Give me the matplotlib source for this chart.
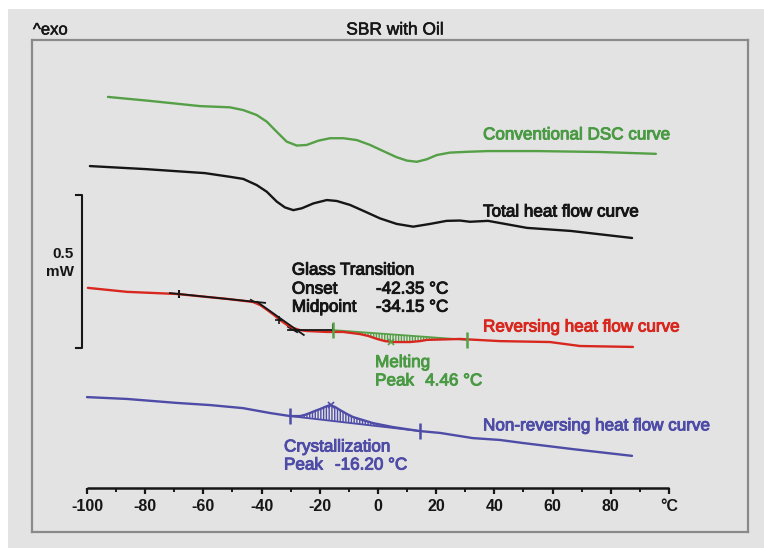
import numpy as np
import matplotlib as mpl
mpl.use('Agg')
import matplotlib.pyplot as plt
import matplotlib.patheffects as pe
from matplotlib.patches import Rectangle

plt.rcParams['font.family'] = ['Liberation Sans', 'DejaVu Sans']
plt.rcParams['hatch.linewidth'] = 1.0

# ---------------------------------------------------------------- data
# temperature in degC, heat flow in mW (arbitrary offset per curve)
conv_T = [-92.8, -78.4, -61.2, -50.9, -46.3, -41.7, -38.2, -34.8, -31.4, -27.9, -24.5,
          -20.5, -16.5, -11.9, -7.3, -2.7, 1.8, 6.4, 9.9, 13.3, 16.7, 20.2, 24.7, 31.6,
          37.8, 54.6, 76.3, 95.5]
conv_hf = [1.278, 1.265, 1.248, 1.244, 1.235, 1.219, 1.197, 1.164, 1.132, 1.119, 1.121,
           1.135, 1.143, 1.143, 1.137, 1.121, 1.101, 1.081, 1.070, 1.066, 1.074, 1.088, 1.096, 1.099,
           1.101, 1.101, 1.098, 1.092]

total_T = [-99.0, -79.7, -59.5, -50.9, -46.3, -41.7, -38.2, -34.8, -32.0, -29.1, -26.2,
           -22.2, -17.6, -14.2, -9.6, -5.1, 0.7, 6.4, 12.1, 17.9, 23.6, 28.2, 31.6,
           37.8, 51.2, 66.3, 87.3]
total_hf = [1.052, 1.042, 1.029, 1.017, 1.010, 0.990, 0.968, 0.936, 0.917, 0.908, 0.914,
            0.930, 0.941, 0.938, 0.925, 0.906, 0.881, 0.863, 0.854, 0.863, 0.873, 0.874, 0.870,
            0.873, 0.850, 0.840, 0.817]

rev_T = [-99.7, -86.3, -69.1, -51.9, -43.0, -40.5, -38.1, -35.7, -33.7, -31.3, -29.2,
         -26.8, -24.4, -17.5, -12.0, -6.2, -3.4, -0.3, 2.4, 5.2, 11.0, 14.4, 16.8, 28.2,
         41.9, 59.1, 69.4, 87.6]
rev_hf = [0.654, 0.641, 0.634, 0.618, 0.608, 0.598, 0.582, 0.565, 0.549, 0.533, 0.523,
          0.516, 0.513, 0.510, 0.510, 0.503, 0.497, 0.487, 0.480, 0.477, 0.477, 0.480, 0.484, 0.487,
          0.480, 0.477, 0.464, 0.461]

nonrev_T = [-100, -86.3, -69.1, -57.7, -46.4, -37.1, -30.2, -26.8, -25.1, -23.4, -21.6,
            -19.9, -18.2, -16.5, -14.8, -13.1, -10.7, -8.6, -5.2, -1.7, 5.2, 14.4, 21.3,
            32.6, 41.9, 49.8, 67.0, 87.3]
nonrev_hf = [0.297, 0.291, 0.278, 0.271, 0.261, 0.245, 0.235, 0.235, 0.239, 0.245, 0.252,
             0.258, 0.265, 0.271, 0.265, 0.255, 0.242, 0.232, 0.222, 0.212, 0.199, 0.186, 0.180,
             0.163, 0.157, 0.147, 0.127, 0.105]

# glass transition evaluation (tangents on reversing curve)
tg_onset, tg_mid = -42.35, -34.15
tg_base1 = ([-71.5, -38.8], [0.637, 0.605])
tg_tangent = ([-41.5, -25.5], [0.608, 0.500])
tg_base2 = ([-30.9, -15.5], [0.516, 0.516])

# melting peak integration limits / baseline
melt_lim = [-15.5, 30.6]
melt_base = [0.516, 0.484]
melt_peak = (4.46, 0.477)

# crystallization peak integration limits / baseline
cryst_lim = [-30.2, 14.4]
cryst_base = [0.235, 0.186]
cryst_peak = (-16.20, 0.271)

xticks = [-100, -80, -60, -40, -20, 0, 20, 40, 60, 80, 100]
xticklabels = ['-100', '-80', '-60', '-40', '-20', '0', '20', '40', '60', '80', '°C']
xminor = [-90, -70, -50, -30, -10, 10, 30, 50, 70, 90]

GREEN = '#55a047'
GREEN_T = '#4a9a44'
RED = '#d8271e'
BLUE = '#4e4ca6'
BLACK = '#161616'
BG = '#e3e3e3'


def heavy(c, w=0.7):
    return [pe.withStroke(linewidth=w, foreground=c)]


# ---------------------------------------------------------------- figure
fig = plt.figure(figsize=(7.64, 5.48), dpi=100)
fig.patch.set_facecolor('white')
fig.patches.append(Rectangle((8/764, 0), 1, 1 - 9/548, transform=fig.transFigure,
                             facecolor=BG, edgecolor='none', zorder=-10))

ax = fig.add_axes([32/764, 16/548, 716/764, 492/548])
ax.set_facecolor(BG)
for s in ax.spines.values():
    s.set_color('#8a8a8a')
    s.set_linewidth(1.6)
ax.set_xticks([])
ax.set_yticks([])
ax.set_xlim(-118.9, 127.15)
ax.set_ylim(-0.1438, 1.464)

# curves
kw = dict(lw=1.7, solid_joinstyle='round', solid_capstyle='round')
ax.plot(conv_T, conv_hf, color=GREEN, **kw)
ax.plot(total_T, total_hf, color=BLACK, **kw)
ax.plot(rev_T, rev_hf, color=RED, zorder=3, **kw)
ax.plot(nonrev_T, nonrev_hf, color=BLUE, **kw)

# glass transition construction
for xs, ys in (tg_base1, tg_tangent, tg_base2):
    ax.plot(xs, ys, color=BLACK, lw=1.3, zorder=4)
ax.plot([tg_base1[0][0] + 3], [tg_base1[1][0] - 0.002], marker='|', ms=6, color=BLACK, mew=1.5)
ax.plot([tg_onset], [0.607], marker=(2, 0, 60), ms=9, color=BLACK, mew=1.2)
ax.plot([tg_mid], [0.549], marker='+', ms=6, color=BLACK, mew=1.2, zorder=5)
ax.plot([-29.5], [0.520], marker=(2, 0, 60), ms=9, color=BLACK, mew=1.2)
ax.plot([-15.5], [0.524], marker='|', ms=6, color=BLACK, mew=1.5)

# melting peak
ax.plot(melt_lim, melt_base, color=GREEN, lw=1.3, zorder=2)
rT = np.array(rev_T)
rH = np.array(rev_hf)
sel = (rT >= melt_lim[0]) & (rT <= melt_lim[1])
xs = np.concatenate(([melt_lim[0]], rT[sel], [melt_lim[1]]))
ys = np.interp(xs, rT, rH)
bl = np.interp(xs, melt_lim, melt_base)
ax.fill_between(xs, ys, bl, where=ys <= bl, interpolate=True, facecolor='none',
                edgecolor=GREEN, hatch='||||||', lw=0, zorder=2)
ax.vlines(melt_lim, [b - 0.025 for b in melt_base], [b + 0.025 for b in melt_base],
          color=GREEN, lw=1.8, zorder=4)
ax.plot(*melt_peak, marker='x', ms=5, color=GREEN, mew=1.2, zorder=5)

# crystallization peak
ax.plot(cryst_lim, cryst_base, color=BLUE, lw=1.3)
nT = np.array(nonrev_T)
nH = np.array(nonrev_hf)
sel = (nT >= cryst_lim[0]) & (nT <= cryst_lim[1])
xs = np.concatenate(([cryst_lim[0]], nT[sel], [cryst_lim[1]]))
ys = np.interp(xs, nT, nH)
bl = np.interp(xs, cryst_lim, cryst_base)
ax.fill_between(xs, ys, bl, where=ys >= bl, interpolate=True, facecolor='none',
                edgecolor=BLUE, hatch='||||||', lw=0)
ax.vlines(cryst_lim, [b - 0.025 for b in cryst_base], [b + 0.025 for b in cryst_base],
          color=BLUE, lw=1.8)
ax.plot(*cryst_peak, marker='x', ms=5, color=BLUE, mew=1.2)

# x axis drawn inside the frame
ax.plot([xticks[0], xticks[-1]], [0, 0], color=BLACK, lw=1.8, solid_capstyle='butt')
ax.vlines(xticks, -0.020, 0, color=BLACK, lw=1.6)
ax.vlines(xminor, -0.013, 0, color=BLACK, lw=1.4)
for t, lab in zip(xticks, xticklabels):
    ax.text(t, -0.059, lab, ha='center', va='center', fontsize=11.5,
            fontweight='bold', color=BLACK)

# 0.5 mW scale bar
ax.plot([-103.8, -101.7, -101.7, -103.8], [0.958, 0.958, 0.458, 0.458],
        color=BLACK, lw=1.5)
ax.text(-104.6, 0.735, '0.5\nmW', ha='right', va='center', fontsize=11,
        fontweight='bold', linespacing=1.35, color=BLACK)

# labels
fs = 12.3


def label(x, y, s, c):
    ax.text(x, y, s, color=c, fontsize=fs, va='center', path_effects=heavy(c))


label(36.1, 1.154, 'Conventional DSC curve', GREEN_T)
label(36.1, 0.902, 'Total heat flow curve', BLACK)
label(36.1, 0.526, 'Reversing heat flow curve', RED)
label(36.1, 0.203, 'Non-reversing heat flow curve', BLUE)

label(-29.6, 0.712, 'Glass Transition', BLACK)
label(-29.6, 0.650, 'Onset', BLACK)
label(-0.7, 0.650, f'{tg_onset:.2f} °C', BLACK)
label(-29.6, 0.591, 'Midpoint', BLACK)
label(-0.7, 0.591, f'{tg_mid:.2f} °C', BLACK)

label(-1.0, 0.410, 'Melting', GREEN_T)
label(-1.0, 0.350, 'Peak', GREEN_T)
label(16.2, 0.350, f'{melt_peak[0]:.2f} °C', GREEN_T)

label(-32.3, 0.134, 'Crystallization', BLUE)
label(-32.3, 0.075, 'Peak', BLUE)
label(-14.8, 0.075, f'{cryst_peak[0]:.2f} °C', BLUE)

narrow = ['Liberation Sans Narrow', 'Liberation Sans', 'DejaVu Sans']
fig.text(33/764, 1 - 30/548, '^exo', fontsize=12, va='center', ha='left', color=BLACK,
         family=narrow, path_effects=heavy(BLACK, 0.4))
fig.text(395/764, 1 - 30/548, 'SBR with Oil', fontsize=12.5, va='center', ha='center',
         color=BLACK, family=narrow, path_effects=heavy(BLACK, 0.4))

fig.savefig('out.png', dpi=100, facecolor=fig.get_facecolor())
